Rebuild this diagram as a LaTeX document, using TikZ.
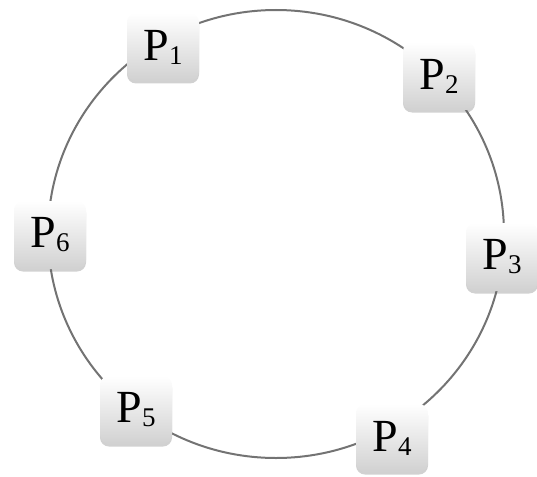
\documentclass[tikz,border=0pt]{standalone}
\usepackage{fontspec}
\setmainfont{Liberation Serif}
\usetikzlibrary{shadows}
\tikzset{
  pbox/.style={rounded corners=9pt, minimum width=72pt, minimum height=68pt,
    inner sep=0pt, top color=white, bottom color=black!18, draw=none,
    drop shadow={shadow xshift=0pt, shadow yshift=-2.5pt, opacity=0.3, fill=black!60},
    font=\fontsize{46}{46}\selectfont},
  ring/.style={draw=black!55, line width=2pt}
}
\newcommand{\pl}[1]{P\raisebox{-4pt}{\fontsize{27}{27}\selectfont #1}}
\begin{document}
\begin{tikzpicture}[x=1pt,y=-1pt]
\useasboundingbox (0,0) rectangle (537,476);
\draw[ring] (276,234) ellipse [x radius=228, y radius=224];
\node[pbox] (p1) at (163,47) {\pl{1}};
\node[pbox] (p2) at (439,76) {\pl{2}};
\node[pbox] (p3) at (502,257) {\pl{3}};
\node[pbox] (p4) at (392,438) {\pl{4}};
\node[pbox] (p5) at (136,410) {\pl{5}};
\node[pbox] (p6) at (50,235) {\pl{6}};
\end{tikzpicture}
\end{document}
